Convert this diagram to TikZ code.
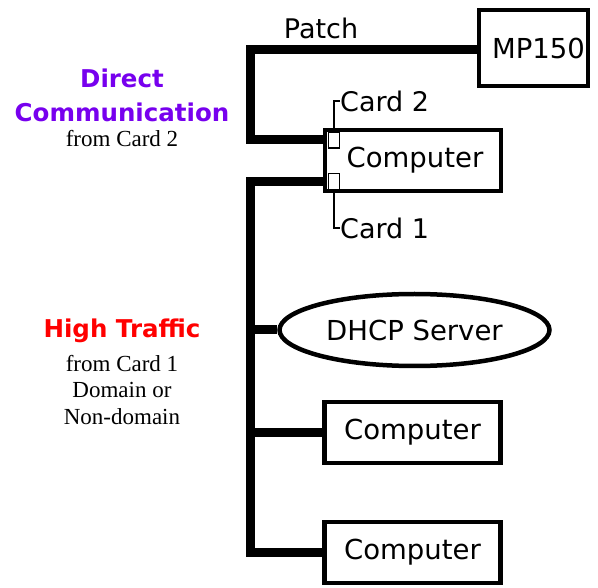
\documentclass[tikz,border=0pt]{standalone}
\usepackage{fontspec}
\setmainfont{DejaVu Sans}
\newfontfamily\notefont{Liberation Serif}
\usetikzlibrary{shapes.geometric}
\definecolor{dcpurple}{RGB}{119,0,238}
\definecolor{htred}{RGB}{255,0,0}
\begin{document}
\begin{tikzpicture}[x=1pt,y=-1pt,
  box/.style={draw, line width=4.5pt, minimum width=176pt, minimum height=61pt, inner sep=0pt, font=\fontsize{27.5}{30}\selectfont},
  bus/.style={line width=9pt, line join=miter},
  cardsq/.style={draw, fill=white, line width=1.6pt, minimum width=11pt, minimum height=16pt, inner sep=0pt},
  cardline/.style={line width=1.8pt},
  lbl/.style={inner sep=0pt, font=\fontsize{27}{30}\selectfont},
  head/.style={inner sep=0pt, font=\fontsize{24.5}{28}\selectfont\bfseries},
  note/.style={inner sep=0pt, font=\fontsize{23}{26}\selectfont\notefont}]
\useasboundingbox (0,0) rectangle (598,588);
% nodes
\node[box, minimum width=109pt, minimum height=76pt] (mp) at (533.5,48) {\hspace*{10pt}MP150};
\node[box] (comp1) at (413,160.5) {\hspace*{4pt}Computer};
\node[draw, ellipse, line width=4.5pt, minimum width=270pt, minimum height=72pt, inner sep=0pt, font=\fontsize{27.5}{30}\selectfont] (dhcp) at (414.5,330) {DHCP Server};
\node[box] (comp2) at (412.5,432.5) {Computer};
\node[box] (comp3) at (412.5,552.5) {Computer};
\node[cardsq] (card2sq) at (334,140) {};
\node[cardsq] (card1sq) at (334,181.5) {};
\node[lbl, anchor=west] (card2) at (340,101) {Card 2};
\node[lbl, anchor=west] (card1) at (340,228) {Card 1};
\node[lbl] (patch) at (321,28) {Patch};
% notes
\node[head, text=dcpurple] (dc1) at (122,78) {Direct};
\node[head, text=dcpurple] (dc2) at (122,112) {Communication};
\node[note] (dc3) at (122,139) {from Card 2};
\node[head, text=htred] (ht1) at (122,331) {High Traffic};
\node[note] (ht2) at (122,364) {from Card 1};
\node[note] (ht3) at (122,390) {Domain or};
\node[note] (ht4) at (122,417) {Non-domain};
% bus coordinates
\coordinate (px) at (250,100);
\coordinate (bx) at (250,400);
% connectors
\draw[bus] (mp.west |- 0,50) -| (px) |- (comp1.west |- card2sq.center);
\draw[bus] (comp1.west |- card1sq.center) -| (bx) |- (comp3.west);
\draw[bus] (dhcp.west) -- (dhcp.west -| bx);
\draw[bus] (comp2.west) -- (comp2.west -| bx);
% card squares on top
\node[cardsq] at (card2sq) {};
\node[cardsq] at (card1sq) {};
\draw[cardline] (card2sq.north) |- (card2.west);
\draw[cardline] (card1sq.south) |- (card1.west);
\end{tikzpicture}
\end{document}
